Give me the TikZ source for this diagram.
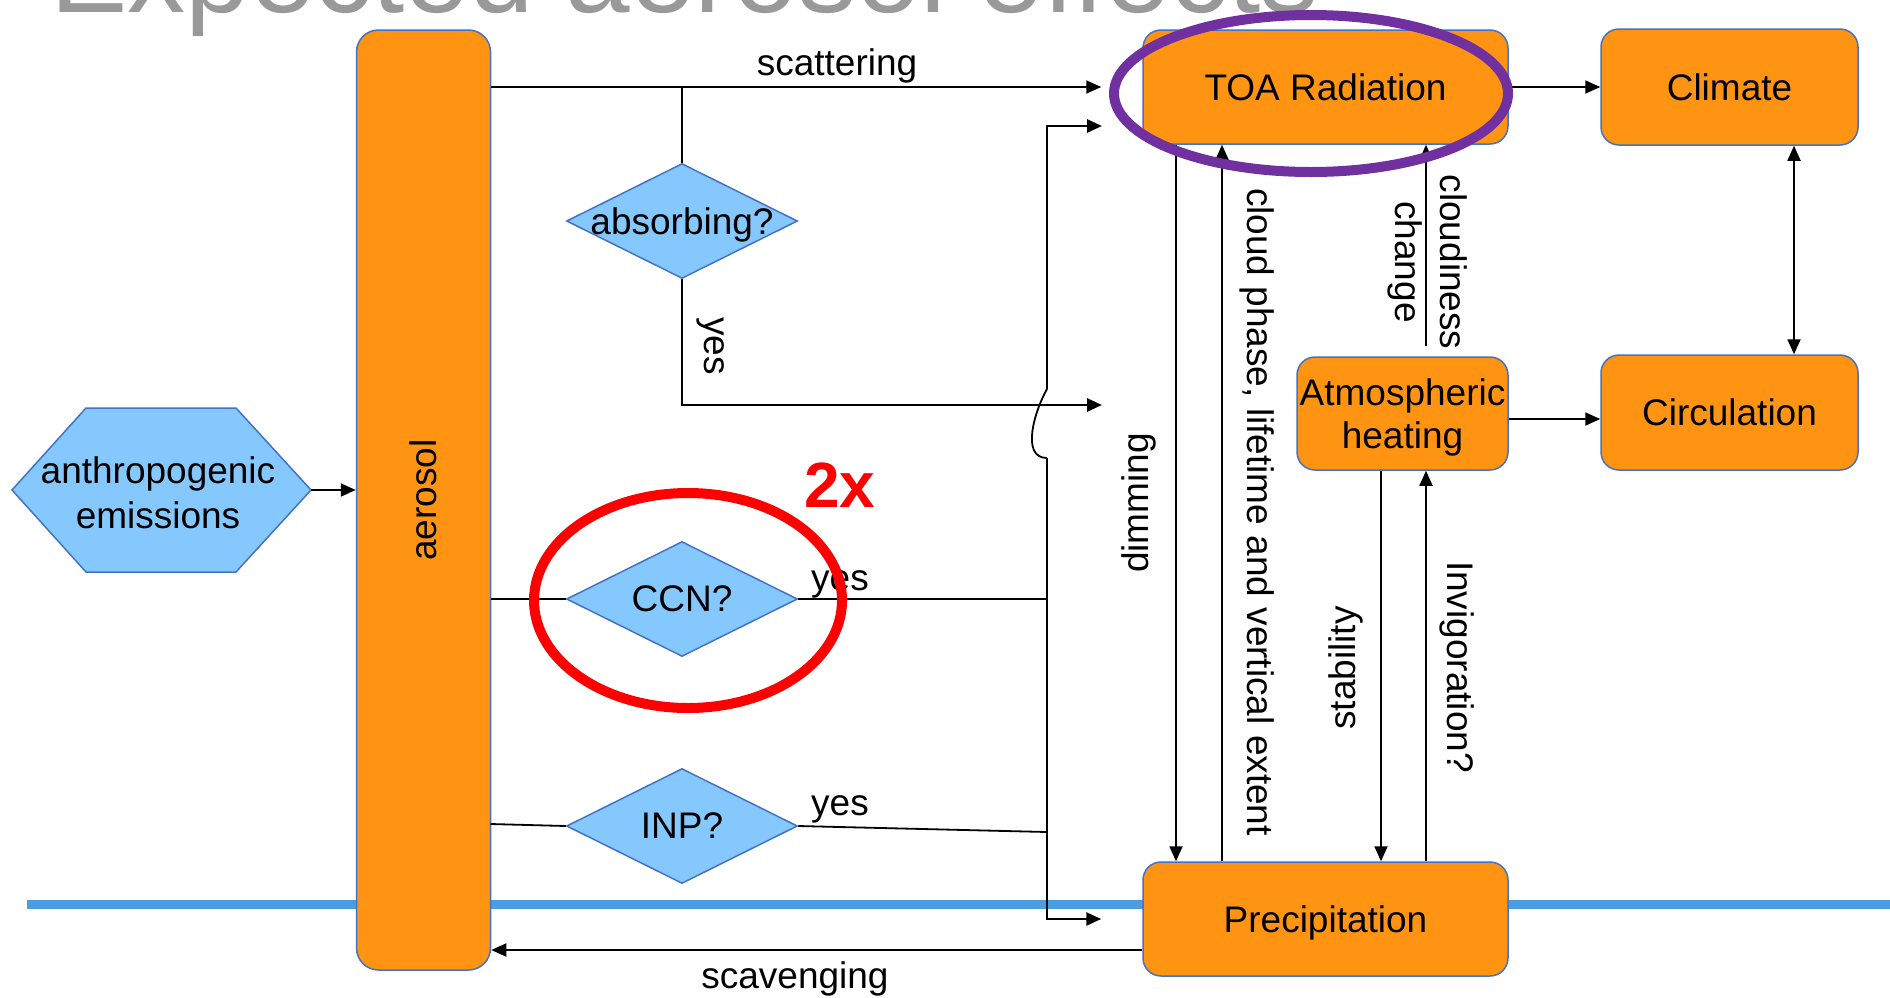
\documentclass[tikz,border=0pt]{standalone}
\usepackage{fontspec}
\setmainfont{Liberation Sans}
\usetikzlibrary{shapes.geometric,arrows.meta,calc}
\definecolor{orng}{HTML}{FE9412}
\definecolor{bxline}{HTML}{4472C4}
\definecolor{lblue}{HTML}{85C8FE}
\definecolor{sea}{HTML}{4A9EE0}
\definecolor{purp}{HTML}{7030A0}
\definecolor{ttl}{HTML}{999999}
\begin{document}
\begin{tikzpicture}[x=1pt,y=-1pt,
 box/.style={draw=bxline, line width=1.5pt, fill=orng, rounded corners=18pt, inner sep=0pt, font=\fontsize{37}{43}\selectfont, align=center, text depth=0pt},
 dia/.style={diamond, draw=bxline, line width=1.5pt, fill=lblue, inner sep=0pt, minimum width=231pt, minimum height=115pt, label={[lab, text depth=0pt]center:#1}},
 lab/.style={font=\fontsize{37}{43}\selectfont, inner sep=0pt},
 con/.style={line width=1.8pt},
 thk/.style={line width=2.6pt},
 tip/.style={-{Triangle[length=15pt,width=13pt]}},
]
\path[use as bounding box] (0,0) rectangle (1890,997);
\clip (0,0) rectangle (1890,997);

% title (cut off at top, as in the reference)
\node[anchor=base west, inner sep=0pt, text=ttl, font=\fontsize{116}{130}\selectfont] (title) at (50,12) {Expected aerosol effects};

% sea/ground line
\draw[sea, line width=9pt] (27,904) -- (1890,904);

% boxes
\node[box, minimum width=134pt, minimum height=940pt, rounded corners=22pt] (aer) at (423.5,500) {};
\node[lab, rotate=90] (aert) at (423,500) {aerosol};
\node[box, minimum width=365pt, minimum height=114pt] (toa) at (1325.5,87) {TOA Radiation};
\node[box, minimum width=257pt, minimum height=116pt] (clim) at (1729.5,87) {Climate};
\node[box, minimum width=211pt, minimum height=113pt] (atm) at (1402.5,413.5) {Atmospheric\\heating};
\node[box, minimum width=257pt, minimum height=115pt] (circ) at (1729.5,412.5) {Circulation};
\node[box, minimum width=365pt, minimum height=114pt] (prec) at (1325.5,919) {Precipitation};

% hexagon
\draw[draw=bxline, line width=1.5pt, fill=lblue] (12,490) -- (86,408) -- (236,408) -- (311,490) -- (236,572) -- (86,572) -- cycle;
\node[lab, align=center, font=\fontsize{37}{45}\selectfont] (emis) at (158,493) {anthropogenic\\emissions};
\coordinate (emisR) at (311,490);

% diamonds
\node[dia={absorbing?}] (abs) at (682,221) {};
\node[dia={CCN?}] (ccn) at (682,599) {};
\node[dia={INP?}] (inp) at (682,826) {};

% helper coordinates
\coordinate (yesarrow) at (1102,405);
\coordinate (ctop) at (1047,126);
\coordinate (ctip) at (1102,126);
\coordinate (cj1) at (1047,389);
\coordinate (cj2) at (1047,458);
\coordinate (inpL) at (490.5,824);
\coordinate (inpR) at (1047,832);
\coordinate (scav) at (0,950);
\coordinate (dimx) at (1176,0);
\coordinate (cpx) at (1222,0);
\coordinate (cdx) at (1426,0);
\coordinate (stx) at (1381,0);
\coordinate (ccx) at (1794,0);
\coordinate (acy) at (0,419);

% connectors on the left
\draw[con, tip] (emisR) -- (aer.west |- emisR);
\draw[con, tip, shorten >=41pt] (aer.east |- toa.west) -- (toa.west);
\draw[thk] (abs.north |- toa.west) -- (abs.north);
\draw[thk, tip] (abs.south) -- (abs.south |- yesarrow) -- (yesarrow);
\draw[thk, tip] (cj1) -- (ctop) -- (ctip);
\draw[con] (cj1) .. controls (1035,410) and (1020,458) .. (cj2);
\draw[thk, tip, shorten >=41pt] (cj2) -- (cj2 |- prec.west) -- (prec.west);
\draw[thk] (aer.east |- ccn.west) -- (ccn.west);
\draw[thk] (ccn.east) -- (ccn.east -| cj2);
\draw[con] (inpL) -- (inp.west);
\draw[con] (inp.east) -- (inpR);
\draw[con, tip] (prec.west |- scav) -- (aer.east |- scav);

% connectors on the right
\draw[con, tip] (toa.south -| dimx) -- (prec.north -| dimx);
\draw[con, tip] (prec.north -| cpx) -- (toa.south -| cpx);
\draw[con, tip, shorten <=10pt] (atm.north -| cdx) -- (toa.south -| cdx);
\draw[con, tip] (atm.south -| stx) -- (prec.north -| stx);
\draw[con, tip] (prec.north -| cdx) -- (atm.south -| cdx);
\draw[con, tip] (toa.east) -- (clim.west);
\draw[con, tip] (atm.east |- acy) -- (circ.west |- acy);
\draw[con, {Triangle[length=15pt,width=13pt]}-{Triangle[length=15pt,width=13pt]}] (clim.south -| ccx) -- (circ.north -| ccx);

% labels
\node[lab, anchor=base] (lscat) at (837,75) {scattering};
\node[lab, rotate=-90] (lyes1) at (711,346) {yes};
\node[lab, anchor=base] (lyes2) at (840,590) {yes};
\node[lab, anchor=base] (lyes3) at (840,815) {yes};
\node[lab, anchor=base] (lscav) at (795,988) {scavenging};
\node[lab, rotate=90] (ldim) at (1139,503) {dimming};
\node[lab, rotate=-90] (lcp) at (1257,512) {cloud phase, lifetime and vertical extent};
\node[lab, rotate=-90, align=center, font=\fontsize{37}{45}\selectfont] (lcd) at (1428,262) {cloudiness\\change};
\node[lab, rotate=90] (lst) at (1346,668) {stability};
\node[lab, rotate=-90] (linv) at (1457,667) {Invigoration?};

% highlights
\draw[purp, line width=10pt] (1311,93.5) ellipse [x radius=197pt, y radius=78.5pt];
\draw[red, line width=10pt] (688,600.5) ellipse [x radius=154pt, y radius=107.5pt];
\node[text=red, inner sep=0pt, font=\bfseries\fontsize{64}{70}\selectfont] (twox) at (840,485) {2x};
\end{tikzpicture}
\end{document}
